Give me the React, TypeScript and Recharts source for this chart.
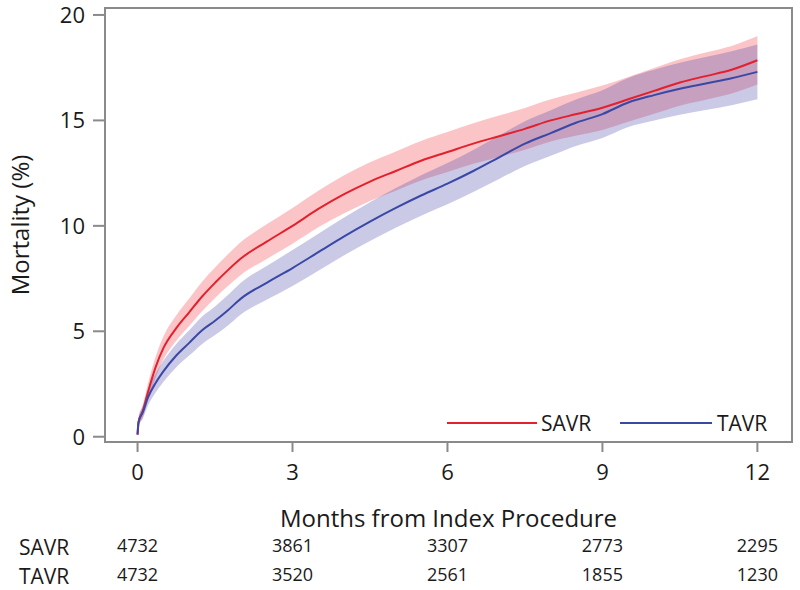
import React from 'react';
import { ComposedChart, Area, Line, XAxis, YAxis, Legend, ReferenceArea } from 'recharts';

const months = [0, 0.02, 0.1, 0.2, 0.35, 0.5, 0.75, 1, 1.25, 1.5, 1.75, 2, 2.5, 3, 3.5, 4, 4.5, 5, 5.5, 6, 6.5, 7, 7.5, 8, 8.5, 9, 9.5, 10, 10.5, 11, 11.5, 12];

const savrMortality = [0.1, 0.7, 1.2, 2.1, 3.3, 4.2, 5.15, 5.9, 6.65, 7.3, 7.9, 8.45, 9.25, 10.0, 10.8, 11.5, 12.1, 12.6, 13.1, 13.5, 13.9, 14.25, 14.6, 15.0, 15.3, 15.6, 16.0, 16.4, 16.8, 17.1, 17.4, 17.85];
const savrLower = [0.1, 0.5, 0.9, 1.7, 2.8, 3.65, 4.55, 5.25, 5.95, 6.58, 7.15, 7.67, 8.43, 9.15, 9.93, 10.6, 11.18, 11.67, 12.16, 12.55, 12.94, 13.27, 13.61, 14.0, 14.28, 14.55, 14.94, 15.32, 15.7, 15.98, 16.27, 16.7];
const savrUpper = [0.1, 0.9, 1.5, 2.5, 3.8, 4.75, 5.75, 6.55, 7.35, 8.02, 8.65, 9.23, 10.07, 10.85, 11.67, 12.4, 13.02, 13.53, 14.04, 14.45, 14.86, 15.23, 15.59, 16.0, 16.32, 16.65, 17.06, 17.48, 17.9, 18.22, 18.53, 19.0];

const tavrMortality = [0.1, 0.7, 1.15, 1.85, 2.55, 3.1, 3.85, 4.45, 5.05, 5.5, 6.0, 6.55, 7.3, 8.0, 8.75, 9.5, 10.2, 10.85, 11.45, 12.0, 12.6, 13.25, 13.9, 14.4, 14.9, 15.3, 15.85, 16.2, 16.5, 16.75, 17.0, 17.3];
const tavrLower = [0.1, 0.5, 0.85, 1.47, 2.1, 2.6, 3.3, 3.85, 4.4, 4.82, 5.28, 5.8, 6.5, 7.15, 7.87, 8.6, 9.28, 9.91, 10.49, 11.02, 11.6, 12.22, 12.84, 13.32, 13.8, 14.17, 14.69, 15.0, 15.27, 15.49, 15.72, 16.0];
const tavrUpper = [0.1, 0.9, 1.45, 2.23, 3.0, 3.6, 4.4, 5.05, 5.7, 6.18, 6.72, 7.3, 8.1, 8.85, 9.63, 10.4, 11.12, 11.79, 12.41, 12.98, 13.6, 14.28, 14.96, 15.48, 16.0, 16.43, 17.01, 17.4, 17.73, 18.01, 18.28, 18.6];

const xTicks = [0, 3, 6, 9, 12];
const yTicks = [0, 5, 10, 15, 20];
const savrAtRisk = [4732, 3861, 3307, 2773, 2295];
const tavrAtRisk = [4732, 3520, 2561, 1855, 1230];
const seriesNames = ['SAVR', 'TAVR'];

const RED = '#e3202c';
const BLUE = '#3a48a5';
const AXIS = '#8a8a8a';
const TEXT = '#1a1a1a';

const data = months.map((m, i) => ({
  month: m,
  savr: savrMortality[i],
  tavr: tavrMortality[i],
  savrBand: [savrLower[i], savrUpper[i]],
  tavrBand: [tavrLower[i], tavrUpper[i]],
}));

const XTick = (props: any) => {
  const { x, y, payload } = props;
  const i = xTicks.indexOf(payload.value);
  return (
    <g>
      <text x={x} y={y} dy="0.71em" textAnchor="middle" fontSize={22} fill={TEXT}>{payload.value}</text>
      <text x={x} y={y + 75} dy="0.71em" textAnchor="middle" fontSize={18} fill={TEXT}>{savrAtRisk[i]}</text>
      <text x={x} y={y + 104} dy="0.71em" textAnchor="middle" fontSize={18} fill={TEXT}>{tavrAtRisk[i]}</text>
    </g>
  );
};

const YTick = (props: any) => {
  const { x, y, payload } = props;
  return (
    <text x={x} y={y} dy="0.36em" textAnchor="end" fontSize={22} fill={TEXT}>{payload.value}</text>
  );
};

const XLabel = (props: any) => {
  const { viewBox } = props;
  const cx = viewBox.x + viewBox.width / 2;
  return (
    <g>
      <text x={cx} y={viewBox.y + 76} dy="0.36em" textAnchor="middle" fontSize={24} fill={TEXT}>Months from Index Procedure</text>
      <text x={19} y={viewBox.y + 105} dy="0.36em" textAnchor="start" fontSize={21} fill={TEXT}>{seriesNames[0]}</text>
      <text x={19} y={viewBox.y + 134} dy="0.36em" textAnchor="start" fontSize={21} fill={TEXT}>{seriesNames[1]}</text>
    </g>
  );
};

const YLabel = () => (
  <text x={20} y={225} dy="0.36em" textAnchor="middle" fontSize={24} fill={TEXT} transform="rotate(-90 20 225)">Mortality (%)</text>
);

const LegendContent = () => (
  <svg width={350} height={30}>
    <line x1={7} y1={15} x2={97} y2={15} stroke={RED} strokeWidth={2} />
    <text x={101} y={15} dy="0.36em" fontSize={21} fill={TEXT}>{seriesNames[0]}</text>
    <line x1={180} y1={15} x2={272} y2={15} stroke={BLUE} strokeWidth={2} />
    <text x={277} y={15} dy="0.36em" fontSize={21} fill={TEXT}>{seriesNames[1]}</text>
  </svg>
);

export default function App() {
  return (
    <div style={{ position: 'absolute', left: 0, top: 0, width: 800, height: 590, background: '#fff', fontFamily: '"Open Sans", sans-serif' }}>
      <ComposedChart width={800} height={590} data={data} margin={{ top: 8, right: 8, bottom: 0, left: 0 }}>
        <XAxis
          dataKey="month"
          type="number"
          domain={[-0.63, 12.67]}
          ticks={xTicks}
          allowDataOverflow
          height={148}
          tickSize={10}
          tickMargin={12}
          stroke={AXIS}
          axisLine={{ stroke: AXIS, strokeWidth: 2 }}
          tickLine={{ stroke: AXIS, strokeWidth: 2 }}
          tick={<XTick />}
          label={{ content: <XLabel /> } as any}
        />
        <YAxis
          type="number"
          domain={[-0.25, 20.33]}
          ticks={yTicks}
          allowDataOverflow
          width={105}
          tickSize={12}
          tickMargin={8}
          axisLine={{ stroke: AXIS, strokeWidth: 2 }}
          tickLine={{ stroke: AXIS, strokeWidth: 2 }}
          tick={<YTick />}
          label={{ content: <YLabel /> } as any}
        />
        <Area dataKey="savrBand" type="monotone" stroke="none" fill="#f0303a" fillOpacity={0.28} isAnimationActive={false} legendType="none" />
        <Area dataKey="tavrBand" type="monotone" stroke="none" fill="#3a3aa8" fillOpacity={0.27} isAnimationActive={false} legendType="none" />
        <Line dataKey="savr" name={seriesNames[0]} type="monotone" stroke={RED} strokeWidth={2} dot={false} isAnimationActive={false} />
        <Line dataKey="tavr" name={seriesNames[1]} type="monotone" stroke={BLUE} strokeWidth={2} dot={false} isAnimationActive={false} />
        <ReferenceArea x1={-0.63} x2={12.67} y1={-0.25} y2={20.33} fill="none" stroke={AXIS} strokeWidth={2} ifOverflow="visible" />
        <Legend
          layout="horizontal"
          verticalAlign="middle"
          align="center"
          wrapperStyle={{ position: 'absolute', left: 440, top: 408, width: 350, height: 30 }}
          content={<LegendContent />}
        />
      </ComposedChart>
    </div>
  );
}
